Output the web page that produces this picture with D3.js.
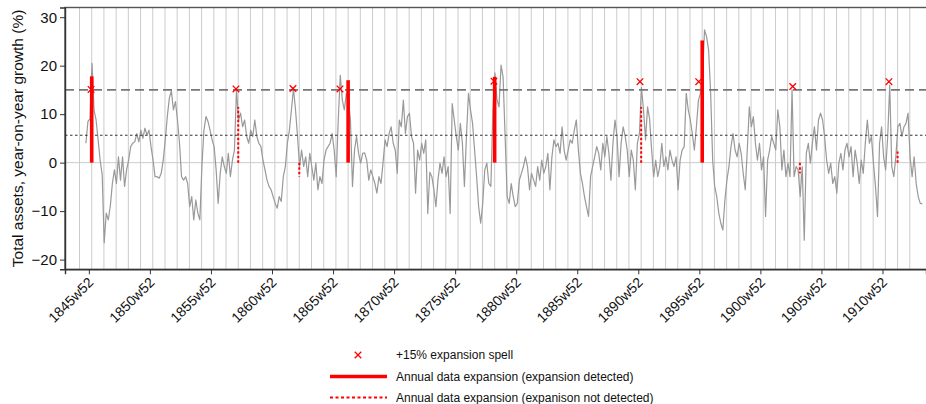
<!DOCTYPE html>
<html>
<head>
<meta charset="utf-8">
<script src="https://cdn.jsdelivr.net/npm/d3@7"></script>
<style>
  html, body { margin: 0; padding: 0; background: #fff; }
  svg { display: block; font-family: "Liberation Sans", Arial, Helvetica, sans-serif; }
</style>
</head>
<body>
<svg id="chart" width="926" height="404"></svg>
<script>
// Weekly balance-sheet series, sampled six times a year, starting mid-1845
const seriesStart = 1845.62;
const seriesStep = 1 / 6;
const growth = [
  4, 8.5, 9, 20.5, 10.8, 8.8,
  4.7, 0.5, -2.5, -16.5, -10.4, -11.8,
  -9, -4.3, -1.5, -4.3, 1.2, -3.6,
  1.2, -4.9, -1.5, 0.5, 3.3, 4.0,
  4.3, 6.0, 4.3, 6.7, 5.0, 7.1,
  5.7, 6.7, 3.3, 0.5, -2.9, -2.9,
  -3.2, -2.2, 0.5, 4.7, 9.5, 13.3,
  14.8, 10.9, 12.6, 8.8, 4.0, -2.9,
  -3.6, -2.9, -4.3, -9.1, -7.0, -11.8,
  -7.7, -10.4, -11.8, -0.8, 6.7, 9.5,
  8.5, 6.7, 4.7, 3.3, -1.5, -8.4,
  -2.2, 1.2, -0.8, -2.2, 1.9, -2.9,
  0.5, 2.6, 15, 8.8, 10.2, 7.4,
  8.8, 5.4, 4.0, 6.7, 5.4, 8.8,
  5.4, 4.0, 3.3, 0.5, -1.5, -3.6,
  -4.9, -5.6, -7.0, -8.4, -9.4, -7.0,
  -8.0, -2.9, -0.8, 4.0, 6.7, 10.9,
  15.3, 10.9, 5.4, -0.8, 2.6, -0.8,
  1.2, -2.9, 1.9, -0.8, -3.6, -0.1,
  -5.6, -2.9, -4.3, 0.5, 2.6, 3.3,
  4.0, 6.0, 2.6, -2.9, 8.8, 18,
  12.9, 10.9, 14.3, 12.9, 8.8, -4.9,
  2.6, 5.4, 1.9, -0.1, 1.9, 2.0,
  0.5, -3.6, -1.5, -2.9, -4.3, -6.3,
  -2.9, -4.3, -0.1, 4.7, 3.3, 6.0,
  7.4, 4.0, 2.6, -2.2, 8.8, 7.4,
  12.9, 6.0, 9.5, 10.2, 5.4, 4.0,
  -6.3, 2.6, 0.5, 4.0, 1.9, 4.7,
  -10.5, -2, -2.9, -5.6, -9.1, -3.6,
  -0.1, -2.2, 1.2, -2.9, -0.8, -10.5,
  12.2, 8.8, 5.4, 2.6, 8.1, 4.0,
  -4.9, 5.4, 14.3, 10.9, 8.1, 2.6,
  -2.9, -9.1, -12.5, -8.4, -1.5, -0.1,
  -4.3, -4.9, 10.9, 18.5, 13, 11.5,
  20.1, 17.7, 5.4, -7.0, -8.4, -4.3,
  -7.0, -9.1, -8.4, -3.6, -2.2, -0.8,
  1.2, -0.8, -5.6, -2.2, -3.6, -4.9,
  -0.8, -3.6, 0.5, -2.2, -0.8, 1.9,
  -5.6, 1.2, 4.7, 3.3, 4.0, 1.9,
  7.4, 2.6, 0.5, 2.6, 4.7, 4.0,
  6.7, 8.8, 2.6, -2.2, -4.3, -7.0,
  -9.1, -11.1, -2.9, -0.8, 1.2, 3.3,
  1.9, -1.5, 4.0, 1.2, 5.4, 1.9,
  -3.6, 4.0, 8.8, 5.4, -2.9, 4.0,
  7.4, 5.4, 2.6, -2.9, 2.6, 0.5,
  -5.6, 4.0, 6.0, 15.5, 10.9, 4.7,
  11.5, 9.0, 2.6, -2.9, 0.5, -2.9,
  -0.8, 4.0, -0.8, 1.2, -1.5, 2.6,
  0.5, -0.8, 1.2, -5.6, 0.5, 2.6,
  3.3, 14.3, 10.9, 8.8, 6.0, 2.6,
  7.4, 12.9, 14.3, 17.7, 27.4, 26,
  23.2, 14.3, 0.5, -4.9, -7, -10.4,
  -12.5, -13.9, -7.7, -3.6, -0.8, 3.3,
  6.0, 2.6, 1.2, 4.0, 1.9, -2.2,
  -5.6, 2.6, 11.5, 7.4, 9.5, 4.0,
  0.5, 4.0, -1.5, 1.2, -11.1, 0.5,
  2.6, 5.4, 4.0, 2.6, 10.9, 7.4,
  -1.5, 2.6, -2.9, -0.1, -2.9, 15,
  -2.9, -0.8, -1.5, -7.0, -0.8, -16,
  1.9, 4.0, -0.1, 4.0, 7.4, 2.6,
  8.8, 10.2, 8.8, 5.4, 0.5, -2.2,
  -0.1, -4.3, -2.9, -6.3, -0.1, 1.9,
  -1.5, 2.6, 4.0, 1.2, 3.3, -2.9,
  2.6, -0.1, -4.3, 0.5, -2.2, 4.0,
  8.8, 4.0, 5.4, -0.1, -4.9, -11.1,
  4.0, 7.4, 1.2, -1.5, 5.4, 16,
  -0.8, -2.9, 1.2, 7.4, 8.1, 5.4,
  7.4, 8.1, 10.2, 1.2, -2.9, 1.2,
  -4.3, -7.0, -8.4, -8.5
];

// Start of each +15% expansion spell (date, growth)
const spellDates = [1846.04, 1857.91, 1862.58, 1866.43, 1879.04, 1891.0, 1895.81, 1903.51, 1911.39];
const spellValues = [15.1, 15.2, 15.3, 15.2, 16.8, 16.7, 16.7, 15.7, 16.7];

// Annual-data expansions, dated at the annual report week
const annualYears = [1846, 1858, 1863, 1867, 1879, 1891, 1896, 1904, 1912];
const annualValues = [17.8, 11.5, -2.9, 17.0, 17.7, 11.5, 25.2, -2.2, 2.3];
const annualDetected = [true, false, false, true, true, false, true, false, false];

// Axis ticks and reference levels
const tickYears = [1845, 1850, 1855, 1860, 1865, 1870, 1875, 1880, 1885, 1890, 1895, 1900, 1905, 1910];
const yTicks = [-20, -10, 0, 10, 20, 30];
const thresholdHigh = 15;
const thresholdMean = 5.65;
const gridYears = d3.range(1845, 1914);

(function draw() {
  const weekDate = (year, week) => year + (week - 1) / 52;

  const svg = d3.select("#chart");
  const mLeft = 65, mRight = 926, mTop = 7.5, mBottom = 269.3;

  const x = d3.scaleLinear().domain([1843.908, 1914.424]).range([mLeft, mRight]);
  const y = d3.scaleLinear().domain([-22, 32]).range([mBottom, mTop]);

  // Annual gridlines
  svg.append("g").selectAll("line").data(gridYears).join("line")
    .attr("x1", d => x(weekDate(d, 6))).attr("x2", d => x(weekDate(d, 6)))
    .attr("y1", mTop).attr("y2", mBottom)
    .attr("stroke", "#cccccc").attr("stroke-width", 1);

  // Zero line
  svg.append("line")
    .attr("x1", mLeft).attr("x2", mRight).attr("y1", y(0)).attr("y2", y(0))
    .attr("stroke", "#cccccc").attr("stroke-width", 1);

  // Growth series
  const points = growth.map((v, i) => [seriesStart + i * seriesStep, v]);
  svg.append("path")
    .datum(points)
    .attr("fill", "none")
    .attr("stroke", "#999999")
    .attr("stroke-width", 1.2)
    .attr("stroke-linejoin", "round")
    .attr("d", d3.line().x(d => x(d[0])).y(d => y(d[1])));

  // Reference levels: +15% threshold and mean growth
  svg.append("line")
    .attr("x1", mLeft).attr("x2", mRight).attr("y1", y(thresholdHigh)).attr("y2", y(thresholdHigh))
    .attr("stroke", "#777").attr("stroke-width", 1.6).attr("stroke-dasharray", "9,5");
  svg.append("line")
    .attr("x1", mLeft).attr("x2", mRight).attr("y1", y(thresholdMean)).attr("y2", y(thresholdMean))
    .attr("stroke", "#333").attr("stroke-width", 1.1).attr("stroke-dasharray", "2.5,2.5");

  // Annual-data expansion bars
  const annual = annualYears.map((yr, i) => ({ date: weekDate(yr, 6), v: annualValues[i], det: annualDetected[i] }));
  svg.append("g").selectAll("line").data(annual).join("line")
    .attr("x1", d => x(d.date)).attr("x2", d => x(d.date))
    .attr("y1", y(0)).attr("y2", d => y(d.v))
    .attr("stroke", "#ff0000")
    .attr("stroke-width", d => d.det ? 3.6 : 2)
    .attr("stroke-dasharray", d => d.det ? null : "2.5,2");

  // Spell markers
  const cross = d3.symbol().type(d3.symbolX).size(30);
  svg.append("g").selectAll("path").data(spellDates.map((d, i) => [d, spellValues[i]])).join("path")
    .attr("transform", d => `translate(${x(d[0])},${y(d[1])})`)
    .attr("d", cross)
    .attr("fill", "none").attr("stroke", "#ff0000").attr("stroke-width", 1.3);

  // Frame
  svg.append("rect")
    .attr("x", mLeft).attr("y", mTop).attr("width", mRight - mLeft + 2).attr("height", mBottom - mTop)
    .attr("fill", "none").attr("stroke", "#555").attr("stroke-width", 1.4);

  // Y axis
  const yAxis = svg.append("g").attr("transform", `translate(${mLeft},0)`)
    .call(d3.axisLeft(y).tickValues(yTicks).tickSize(5).tickPadding(3));
  yAxis.select(".domain").attr("stroke", "#333").attr("stroke-width", 1.4);
  yAxis.selectAll(".tick line").attr("stroke", "#333");
  yAxis.selectAll("text").attr("font-size", 15).attr("fill", "#111")
    .attr("font-family", "Liberation Sans, Arial, sans-serif");

  // X axis
  const xAxis = svg.append("g").attr("transform", `translate(0,${mBottom})`)
    .call(d3.axisBottom(x).tickValues(tickYears.map(t => weekDate(t, 52) - 0.12)).tickSize(5)
      .tickFormat((d, i) => tickYears[i] + "w52"));
  xAxis.select(".domain").attr("stroke", "#333").attr("stroke-width", 1.4);
  xAxis.selectAll(".tick line").attr("stroke", "#333");
  xAxis.selectAll("text")
    .attr("font-size", 14).attr("fill", "#111")
    .attr("font-family", "Liberation Sans, Arial, sans-serif")
    .attr("text-anchor", "end")
    .attr("dy", null)
    .attr("y", 0)
    .attr("transform", "translate(5,14) rotate(-45)");

  // Y axis title
  svg.append("text")
    .attr("transform", `translate(23,${(mTop + mBottom) / 2}) rotate(-90)`)
    .attr("text-anchor", "middle")
    .attr("font-size", 15.5).attr("fill", "#111")
    .text("Total assets, year-on-year growth (%)");

  // Legend
  const legend = svg.append("g");
  const legendItems = [
    { kind: "cross", label: "+15% expansion spell", y: 355 },
    { kind: "solid", label: "Annual data expansion (expansion detected)", y: 376.5 },
    { kind: "dotted", label: "Annual data expansion (expanison not detected)", y: 397.5 }
  ];
  legendItems.forEach(it => {
    if (it.kind === "cross") {
      legend.append("path").attr("transform", `translate(358,${it.y})`).attr("d", cross)
        .attr("fill", "none").attr("stroke", "#ff0000").attr("stroke-width", 1.3);
    } else {
      legend.append("line").attr("x1", 330).attr("x2", 387).attr("y1", it.y).attr("y2", it.y)
        .attr("stroke", "#ff0000")
        .attr("stroke-width", it.kind === "solid" ? 3.6 : 2)
        .attr("stroke-dasharray", it.kind === "solid" ? null : "3,2.5");
    }
    legend.append("text").attr("x", 396).attr("y", it.y).attr("dy", "0.35em")
      .attr("font-size", 12).attr("fill", "#111").text(it.label);
  });
})();
</script>
</body>
</html>
